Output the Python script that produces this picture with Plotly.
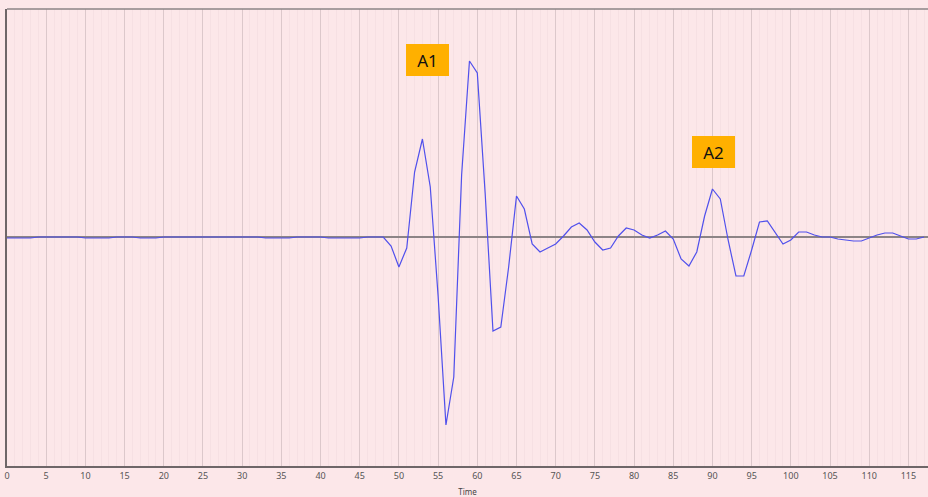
import plotly.graph_objects as go

# Data (sample index = Time, amplitude in arbitrary units)
time = list(range(0, 118))
amplitude = [
    -1, -1, -1, -1, 0, 0, 0, 0, 0, 0,          # 0-9
    -1, -1, -1, -1, 0, 0, 0, -1, -1, -1,       # 10-19
    0, 0, 0, 0, 0, 0, 0, 0, 0, 0,              # 20-29
    0, 0, 0, -1, -1, -1, -1, 0, 0, 0,          # 30-39
    0, -1, -1, -1, -1, -1, 0, 0, 0, -9,        # 40-49
    -30, -11, 65, 98, 50, -59, -188, -140, 62, 176,   # 50-59
    164, 44, -94, -90, -30, 41, 28, -7, -15, -11,     # 60-69
    -7, 1, 10, 14, 7, -5, -13, -11, 1, 9,             # 70-79
    7, 2, -1, 2, 6, -2, -22, -29, -15, 21,            # 80-89
    48, 38, -3, -39, -39, -13, 15, 16, 4, -7,         # 90-99
    -3, 5, 5, 2, 0, 0, -2, -3, -4, -4,                # 100-109
    -1, 2, 4, 4, 1, -2, -2, 0,                        # 110-117
]
tick_values = list(range(0, 120, 5))
tick_labels = [str(v) for v in tick_values]
annotation_labels = ["A1", "A2"]
annotation_x = [53.6, 90.1]
annotation_y = [177, 85]

bg = "#FCE7E9"

fig = go.Figure()
fig.add_trace(go.Scatter(
    x=time, y=amplitude, mode="lines",
    line=dict(color="#5050EC", width=1.2),
    hoverinfo="skip", showlegend=False,
))

for lab, ax_, ay_ in zip(annotation_labels, annotation_x, annotation_y):
    fig.add_annotation(
        x=ax_, y=ay_, xref="x", yref="y", text=lab, showarrow=False,
        xanchor="center", yanchor="middle",
        font=dict(family="Noto Sans", size=17, color="#111111"),
        bgcolor="#FFB000", width=43, height=32, borderpad=0, borderwidth=0,
    )

# top border line
fig.add_shape(type="line", xref="paper", yref="paper", x0=0, x1=1, y0=1, y1=1,
              line=dict(color="#8C8486", width=1.5))

fig.update_layout(
    width=928, height=497,
    margin=dict(l=7, r=0, t=9, b=31, autoexpand=False),
    paper_bgcolor=bg, plot_bgcolor=bg,
    xaxis=dict(
        range=[0, 117.5], automargin=False,
        tickmode="array", tickvals=tick_values, ticktext=tick_labels,
        showgrid=True, gridcolor="#DCC8CB", gridwidth=1,
        minor=dict(dtick=1, showgrid=True, gridcolor="#F6E0E3", gridwidth=1),
        showline=True, linecolor="#6E6668", linewidth=2,
        ticks="", zeroline=False,
        tickfont=dict(family="Noto Sans", size=9, color="#555555"),
        title=dict(text="Time", font=dict(family="Noto Sans", size=8, color="#444444"), standoff=9),
    ),
    yaxis=dict(
        range=[-229, 228], automargin=False,
        showgrid=False, showticklabels=False, ticks="",
        zeroline=True, zerolinecolor="#8C8486", zerolinewidth=1.5,
        showline=True, linecolor="#6E6668", linewidth=2,
    ),
)

fig.write_html(
    "out.html",
    config={"displayModeBar": False},
    post_script="document.body.style.margin='0px';document.body.style.overflow='hidden';"
                "document.body.style.background='" + bg + "';",
)
